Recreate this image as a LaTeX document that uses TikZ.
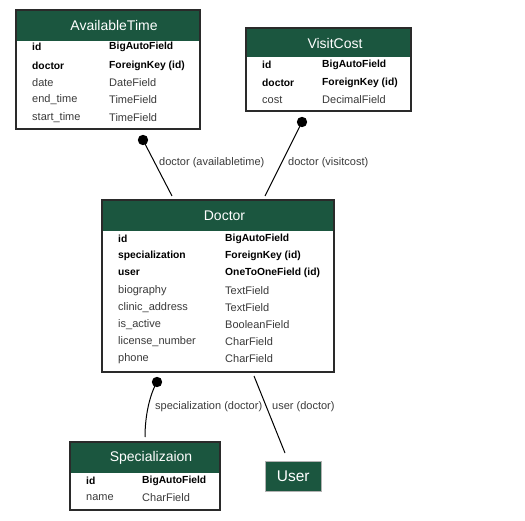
\documentclass[tikz,border=0pt]{standalone}
\usepackage{fontspec}
\setmainfont{Liberation Sans}
\definecolor{hdrgreen}{HTML}{1B563F}
\definecolor{fieldgray}{HTML}{3A3A3A}
\definecolor{framegray}{HTML}{2A2A2A}
\begin{document}
\begin{tikzpicture}[x=1pt,y=-1pt,
  tbl/.style={draw=framegray, line width=1.4pt, fill=white, anchor=north west, inner sep=0, outer sep=0},
  hdr/.style={fill=hdrgreen},
  title/.style={text=white, font=\fontsize{14}{16}\selectfont, inner sep=0},
  fld/.style={anchor=west, inner sep=0, text=fieldgray, font=\fontsize{11}{13}\selectfont},
  fldb/.style={fld, text=black, font=\fontsize{10.3}{12}\selectfont\bfseries},
  rel/.style={draw=black, line width=1pt},
  reldot/.style={fill=black},
  rlabel/.style={anchor=west, inner sep=0, text=fieldgray, font=\fontsize{11}{13}\selectfont}]
\useasboundingbox (0,0) rectangle (525,521);

% ---------- AvailableTime ----------
\node[tbl, minimum width=184pt, minimum height=119pt] (avail) at (16,10) {};
\fill[hdr] (17,11) rectangle (199,41);
\node[title] (availT) at (114,25.5) {AvailableTime};
\node[fldb] (a1) at (32,47) {id};             \node[fldb] (a1t) at (109,47) {BigAutoField};
\node[fldb] (a2) at (32,66) {doctor};         \node[fldb] (a2t) at (109,66) {ForeignKey (id)};
\node[fld]  (a3) at (32,83) {date};           \node[fld]  (a3t) at (109,83) {DateField};
\node[fld]  (a4) at (32,100) {end\_time};     \node[fld]  (a4t) at (109,100) {TimeField};
\node[fld]  (a5) at (32,118) {start\_time};   \node[fld]  (a5t) at (109,118) {TimeField};

% ---------- VisitCost ----------
\node[tbl, minimum width=165pt, minimum height=83pt] (visit) at (246,28) {};
\fill[hdr] (247,29) rectangle (410,57);
\node[title] (visitT) at (335,43) {VisitCost};
\node[fldb] (v1) at (262,65) {id};            \node[fldb] (v1t) at (322,65) {BigAutoField};
\node[fldb] (v2) at (262,83) {doctor};        \node[fldb] (v2t) at (322,83) {ForeignKey (id)};
\node[fld]  (v3) at (262,100) {cost};         \node[fld]  (v3t) at (322,100) {DecimalField};

% ---------- Doctor ----------
\node[tbl, minimum width=232pt, minimum height=172pt] (doc) at (102,200) {};
\fill[hdr] (103,201) rectangle (333,231);
\node[title] (docT) at (224.5,215.5) {Doctor};
\node[fldb] (d1) at (118,239) {id};               \node[fldb] (d1t) at (225,239) {BigAutoField};
\node[fldb] (d2) at (118,256) {specialization};   \node[fldb] (d2t) at (225,256) {ForeignKey (id)};
\node[fldb] (d3) at (118,273) {user};             \node[fldb] (d3t) at (225,273) {OneToOneField (id)};
\node[fld]  (d4) at (118,291) {biography};        \node[fld]  (d4t) at (225,291) {TextField};
\node[fld]  (d5) at (118,308) {clinic\_address};  \node[fld]  (d5t) at (225,308) {TextField};
\node[fld]  (d6) at (118,325) {is\_active};       \node[fld]  (d6t) at (225,325) {BooleanField};
\node[fld]  (d7) at (118,342) {license\_number};  \node[fld]  (d7t) at (225,342) {CharField};
\node[fld]  (d8) at (118,359) {phone};            \node[fld]  (d8t) at (225,359) {CharField};

% ---------- Specializaion ----------
\node[tbl, minimum width=150pt, minimum height=68pt] (spec) at (70,442) {};
\fill[hdr] (71,443) rectangle (219,473);
\node[title] (specT) at (151,457.5) {Specializaion};
\node[fldb] (s1) at (86,481) {id};            \node[fldb] (s1t) at (142,481) {BigAutoField};
\node[fld]  (s2) at (86,498) {name};          \node[fld]  (s2t) at (142,498) {CharField};

% ---------- User ----------
\node[draw=gray!60, line width=0.6pt, fill=hdrgreen, text=white, anchor=north west,
      minimum width=56pt, minimum height=30pt, inner sep=0,
      font=\fontsize{15.5}{17}\selectfont] (user) at (265,461) {User};

% ---------- relation end points ----------
\coordinate (atDot) at (143,140);
\coordinate (atEnd) at (172,196);
\coordinate (vcDot) at (302,122);
\coordinate (vcEnd) at (265,196);
\coordinate (spDot) at (157,382);
\coordinate (spEnd) at (145,437);
\coordinate (usStart) at (254,376);
\coordinate (usEnd) at (285,453);

% ---------- relations ----------
\draw[rel] (atDot) -- (atEnd);
\fill[reldot] (atDot) circle (5.2);
\node[rlabel] (atL) at (159,163) {doctor (availabletime)};

\draw[rel] (vcDot) -- (vcEnd);
\fill[reldot] (vcDot) circle (5.2);
\node[rlabel] (vcL) at (288,163) {doctor (visitcost)};

\draw[rel] (spDot) .. controls (150,394) and (145,415) .. (spEnd);
\fill[reldot] (spDot) circle (5.2);
\node[rlabel] (spL) at (155,407) {specialization (doctor)};

\draw[rel] (usStart) -- (usEnd);
\node[rlabel] (usL) at (272,407) {user (doctor)};
\end{tikzpicture}
\end{document}
